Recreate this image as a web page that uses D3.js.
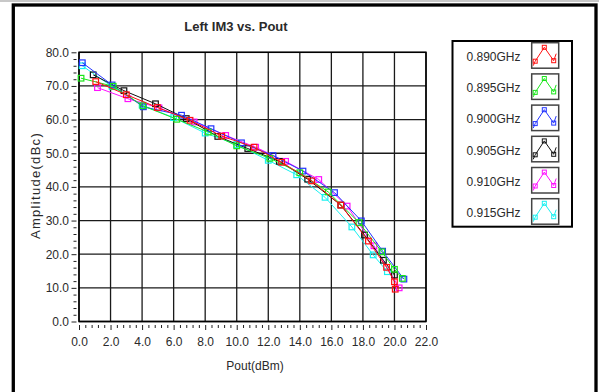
<!DOCTYPE html>
<html><head><meta charset="utf-8">
<script src="https://cdn.jsdelivr.net/npm/d3@7"></script>
<style>
html,body{margin:0;padding:0;background:#fff;}
svg{display:block;}
text{font-family:"Liberation Sans",Arial,sans-serif;fill:#2a2a2a;}
</style></head>
<body>
<svg id="c" width="599" height="392"></svg>
<script>
// ---- data ----
const seriesLabels = ["0.890GHz","0.895GHz","0.900GHz","0.905GHz","0.910GHz","0.915GHz"];
const seriesColors = ["#ff1010","#19e619","#2233ff","#111111","#ff10ff","#19f0f0"];

const pout890 = [1.06,3.0,4.97,7.04,9.05,11.1,12.85,14.75,16.6,18.35,19.5,20.0,20.05];
const im3_890 = [71.3,67.4,63.6,59.8,55.1,51.8,47.3,41.8,34.6,23.9,16.1,11.8,9.6];

const pout895 = [0.13,2.17,4.05,6.2,8.2,10.0,12.1,14.0,15.8,17.75,19.2,20.0,20.5];
const im3_895 = [72.3,69.9,64.1,60.1,56.3,52.2,48.5,44.2,38.5,29.4,20.7,15.5,12.8];

const pout900 = [0.21,2.1,4.08,6.5,8.37,10.3,12.3,14.2,16.2,17.9,19.25,20.6];
const im3_900 = [76.9,70.3,63.8,61.3,57.3,53.1,49.3,44.7,38.3,29.9,20.9,12.6];

const pout905 = [0.9,2.85,4.85,6.8,8.8,10.7,12.7,14.5,16.6,18.1,19.3,20.0];
const im3_905 = [73.3,68.6,64.7,60.3,55.0,51.4,47.6,42.3,34.6,25.7,18.2,13.8];

const pout910 = [1.17,3.1,5.07,7.3,9.3,11.2,13.1,15.2,17.0,18.7,20.3];
const im3_910 = [69.5,66.2,63.5,59.3,55.3,51.8,47.6,42.2,34.3,22.5,10.0];

const pout915 = [0.2,2.1,4.0,6.0,8.0,10.0,12.0,13.8,15.6,17.3,18.65,19.55];
const im3_915 = [76.0,69.8,64.3,60.6,56.0,52.6,47.9,43.6,36.9,28.1,19.8,14.8];

const xMajor = [0,2,4,6,8,10,12,14,16,18,20,22];
const yMajor = [0,10,20,30,40,50,60,70,80];

const seriesX = [pout890,pout895,pout900,pout905,pout910,pout915];
const seriesY = [im3_890,im3_895,im3_900,im3_905,im3_910,im3_915];

// ---- layout ----
const svg = d3.select("#c");
const L = 79, R = 426, T = 52.3, B = 321.5;
const x = d3.scaleLinear().domain([0,22]).range([L,R]);
const y = d3.scaleLinear().domain([0,80]).range([B,T]);
const fmt = d3.format(".1f");

// outer frame
svg.append("line").attr("x1",0).attr("x2",599).attr("y1",1).attr("y2",1).attr("stroke","#c8c8c8").attr("stroke-width",2);
svg.append("rect").attr("x",13.3).attr("y",5).attr("width",582.7).attr("height",420)
  .attr("fill","none").attr("stroke","#000").attr("stroke-width",3.3);

// title
svg.append("text").attr("x",236).attr("y",31).attr("text-anchor","middle")
  .style("font-weight","bold").style("font-size","13px").attr("fill","#111").text("Left IM3 vs. Pout");

// grid
const g = svg.append("g");
g.selectAll("line.vx").data(xMajor).join("line")
  .attr("x1",d=>x(d)).attr("x2",d=>x(d)).attr("y1",T).attr("y2",B)
  .attr("stroke","#1a1a1a").attr("stroke-width",1.3);
g.selectAll("line.hy").data(yMajor).join("line")
  .attr("x1",L).attr("x2",R).attr("y1",d=>y(d)).attr("y2",d=>y(d))
  .attr("stroke","#1a1a1a").attr("stroke-width",1.3);
svg.append("rect").attr("x",L).attr("y",T).attr("width",R-L).attr("height",B-T)
  .attr("fill","none").attr("stroke","#000").attr("stroke-width",1.5);

// axes
const xMinor = d3.range(0,22.001,0.4).filter(v=>Math.abs(v/2-Math.round(v/2))>1e-6);
const yMinor = d3.range(0,80.001,2).filter(v=>v%10!==0);

const ax = svg.append("g").attr("transform",`translate(0,${B+3.5})`)
  .call(d3.axisBottom(x).tickValues(xMajor).tickFormat(fmt).tickSizeInner(5).tickSizeOuter(0).tickPadding(7.5));
const axm = svg.append("g").attr("transform",`translate(0,${B+3.5})`)
  .call(d3.axisBottom(x).tickValues(xMinor).tickFormat("").tickSizeInner(3).tickSizeOuter(0));
const ay = svg.append("g").attr("transform",`translate(${L-2.5},0)`)
  .call(d3.axisLeft(y).tickValues(yMajor).tickFormat(fmt).tickSizeInner(5).tickSizeOuter(0).tickPadding(2.5));
const aym = svg.append("g").attr("transform",`translate(${L-2.5},0)`)
  .call(d3.axisLeft(y).tickValues(yMinor).tickFormat("").tickSizeInner(3).tickSizeOuter(0));
[ax,axm,ay,aym].forEach(a=>{
  a.select(".domain").remove();
  a.selectAll(".tick line").attr("stroke","#222").attr("stroke-width",1);
  a.selectAll("text").style("font-size","12px").style("font-family",'"Liberation Sans",Arial,sans-serif').attr("fill","#2a2a2a");
});

// axis titles
svg.append("text").attr("x",255).attr("y",370).attr("text-anchor","middle")
  .style("font-size","12px").text("Pout(dBm)");
svg.append("text").attr("transform","translate(39.5,185.5) rotate(-90)").attr("text-anchor","middle")
  .style("font-size","13px").style("letter-spacing","1.3px").text("Amplitude(dBc)");

// series
const line = d3.line().x(d=>x(d[0])).y(d=>y(d[1]));
const drawOrder = [5,4,3,2,1,0];
const plot = svg.append("g");
drawOrder.forEach(i=>{
  const pts = seriesX[i].map((v,k)=>[v,seriesY[i][k]]);
  const sg = plot.append("g");
  sg.append("path").datum(pts).attr("d",line).attr("fill","none")
    .attr("stroke",seriesColors[i]).attr("stroke-width",1);
  sg.selectAll("rect").data(pts).join("rect")
    .attr("x",d=>x(d[0])-2.8).attr("y",d=>y(d[1])-2.8).attr("width",5.6).attr("height",5.6)
    .attr("fill","none").attr("stroke",seriesColors[i]).attr("stroke-width",1.2);
});

// legend
svg.append("rect").attr("x",452.5).attr("y",41).attr("width",119.5).attr("height",185.7)
  .attr("fill","#fff").attr("stroke","#000").attr("stroke-width",2);
const iconPts = [[1.5,23],[3.5,18.5],[12.6,4.6],[22,18],[24.5,11]];
const iconMk = [[3.5,18.5],[12.6,4.6],[22,18]];
const iconLine = d3.line().x(d=>d[0]).y(d=>d[1]);
seriesLabels.forEach((lab,i)=>{
  const by = 42.7 + i*31.2;
  svg.append("text").attr("x",520.5).attr("y",by+18.3).attr("text-anchor","end")
    .style("font-size","12px").text(lab);
  const ig = svg.append("g").attr("transform",`translate(531.7,${by})`);
  ig.append("rect").attr("x",0).attr("y",0).attr("width",27).attr("height",25.5)
    .attr("fill","#fff").attr("stroke","#444").attr("stroke-width",1.5);
  ig.append("path").datum(iconPts).attr("d",iconLine).attr("fill","none")
    .attr("stroke",seriesColors[i]).attr("stroke-width",1);
  ig.selectAll("rect.m").data(iconMk).join("rect").attr("class","m")
    .attr("x",d=>d[0]-2).attr("y",d=>d[1]-2).attr("width",4).attr("height",4)
    .attr("fill","none").attr("stroke",seriesColors[i]).attr("stroke-width",1);
});
</script>
</body></html>
